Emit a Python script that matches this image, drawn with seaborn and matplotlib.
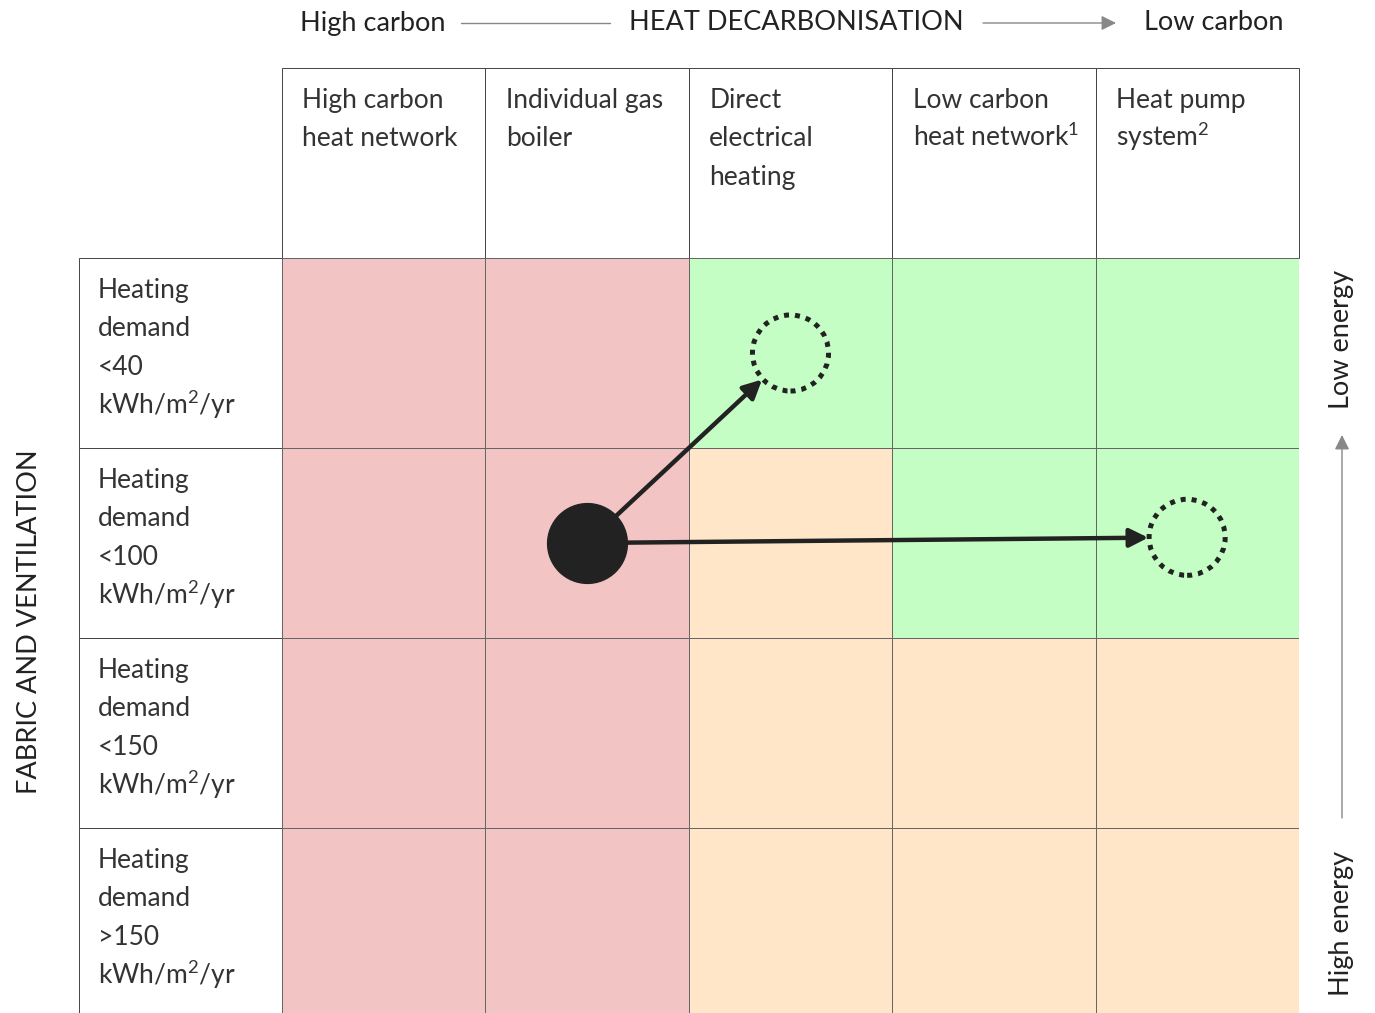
import numpy as np
import pandas as pd
import seaborn as sns
import matplotlib.pyplot as plt
from matplotlib.colors import ListedColormap
from matplotlib.patches import Rectangle

sns.set_style("white")
plt.rcParams['font.family'] = ['Lato', 'DejaVu Sans']
plt.rcParams['mathtext.fontset'] = 'custom'
plt.rcParams['mathtext.rm'] = 'Lato'
plt.rcParams['mathtext.default'] = 'regular'

# columns: heating systems, low carbon to the right
systems = ["High carbon\nheat network", "Individual gas\nboiler", "Direct\nelectrical\nheating",
           "Low carbon\nheat network$^1$", "Heat pump\nsystem$^2$"]
# rows: heating demand bands, low energy at the top
demand = ["Heating\ndemand\n<40\nkWh/m$^2$/yr", "Heating\ndemand\n<100\nkWh/m$^2$/yr",
          "Heating\ndemand\n<150\nkWh/m$^2$/yr", "Heating\ndemand\n>150\nkWh/m$^2$/yr"]
# 0 = unsuitable (red), 1 = possible (amber), 2 = suitable (green)
rating = [[0, 0, 2, 2, 2],
          [0, 0, 1, 2, 2],
          [0, 0, 1, 1, 1],
          [0, 0, 1, 1, 1]]

# current building and the two possible routes (column, row of the cell)
current = (1.5, 1.5)
targets = [(2.5, 0.5), (4.45, 1.47)]

RED, AMBER, GREEN = "#F2C4C4", "#FFE6C9", "#C4FEC4"
INK = "#222222"
STEP = 0.203  # line step inside a cell, in row units

df = pd.DataFrame(rating, index=demand, columns=systems)

W, H = 1375, 1013
fig = plt.figure(figsize=(W / 100, H / 100), dpi=100)
ax = fig.add_axes([282 / W, -5 / H, (1299 - 282) / W, (1018 - 258) / H])

sns.heatmap(df, ax=ax, cmap=ListedColormap([RED, AMBER, GREEN]), vmin=-0.5, vmax=2.5,
            cbar=False, linewidths=0.7, linecolor="#666666",
            xticklabels=False, yticklabels=False)


def cell_text(x, y, label):
    # one line at a time so superscripts don't change the spacing
    for k, line in enumerate(label.split("\n")):
        ax.text(x, y + k * STEP, line, ha="left", va="baseline", fontsize=19,
                color="#333333", clip_on=False)


# header cells
for i, name in enumerate(systems):
    ax.add_patch(Rectangle((i, -1), 1, 1, facecolor="white", edgecolor="#444444",
                           lw=0.7, clip_on=False, zorder=0))
    cell_text(i + 0.1, -1 + 0.21, name)

# row label cells
for j, name in enumerate(demand):
    ax.add_patch(Rectangle((-1, j), 1, 1, facecolor="white", edgecolor="#444444",
                           lw=0.7, clip_on=False, zorder=0))
    cell_text(-0.905, j + 0.21, name)

# routes
for tx, ty in targets:
    ax.annotate("", xy=(tx, ty), xytext=current,
                arrowprops=dict(arrowstyle="-|>", color=INK, lw=3.2,
                                mutation_scale=28, shrinkA=27, shrinkB=28))
ax.scatter([current[0]], [current[1]], s=3300, color=INK, zorder=5, clip_on=False)
ax.scatter([t[0] for t in targets], [t[1] for t in targets], s=3000, facecolor="none",
           edgecolor=INK, linewidth=3.6, linestyle=(0, (1.0, 1.2)), zorder=5)

# top axis title
ty0 = 1 - 23 / H
fig.text(300 / W, ty0, "High carbon", ha="left", va="center", fontsize=19.5, color=INK)
fig.text(796 / W, ty0, "HEAT DECARBONISATION", ha="center", va="center",
         fontsize=19.5, color=INK)
fig.text(1284 / W, ty0, "Low carbon", ha="right", va="center", fontsize=19.5, color=INK)
fig.add_artist(plt.Line2D([461 / W, 610 / W], [ty0, ty0], color="#888888", lw=1))
ax.annotate("", xy=(1116 / W, ty0), xytext=(983 / W, ty0),
            xycoords="figure fraction", textcoords="figure fraction",
            arrowprops=dict(arrowstyle="-|>", color="#888888", lw=1, mutation_scale=22,
                            shrinkA=0, shrinkB=0))

# side titles
fig.text(30 / W, 1 - 622 / H, "FABRIC AND VENTILATION", rotation=90, ha="center",
         va="center", fontsize=19.5, color=INK)
fig.text(1342 / W, 1 - 339 / H, "Low energy", rotation=90, ha="center", va="center",
         fontsize=19.5, color=INK)
fig.text(1342 / W, 1 - 923 / H, "High energy", rotation=90, ha="center", va="center",
         fontsize=19.5, color=INK)
ax.annotate("", xy=(1342 / W, 1 - 435 / H), xytext=(1342 / W, 1 - 818 / H),
            xycoords="figure fraction", textcoords="figure fraction",
            arrowprops=dict(arrowstyle="-|>", color="#888888", lw=1, mutation_scale=22,
                            shrinkA=0, shrinkB=0))

fig.savefig("out.png", dpi=100)
